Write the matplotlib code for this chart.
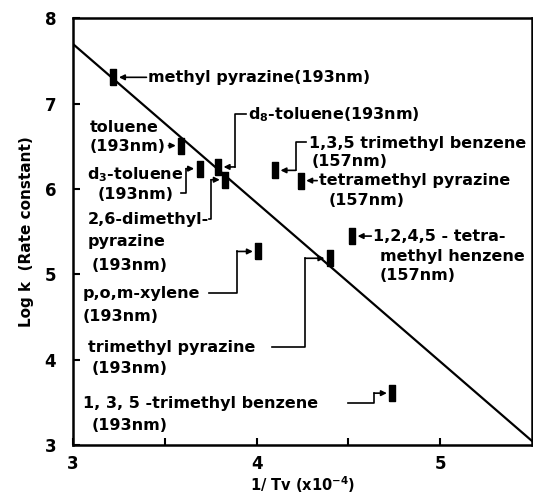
import numpy as np
import matplotlib
matplotlib.use('Agg')
import matplotlib.pyplot as plt

# data points: 1/Tv (x10^-4) and log k
names = ['methyl pyrazine', 'toluene', 'd3-toluene', 'd8-toluene',
         '2,6-dimethyl pyrazine', 'p,o,m-xylene', 'trimethyl pyrazine',
         '1,3,5-trimethyl benzene 193', '1,3,5-trimethyl benzene 157',
         'tetramethyl pyrazine', '1,2,4,5-tetramethyl benzene']
inv_tv = [3.22, 3.59, 3.69, 3.79, 3.83, 4.01, 4.40, 4.74, 4.10, 4.24, 4.52]
log_k = [7.31, 6.51, 6.24, 6.26, 6.11, 5.27, 5.19, 3.61, 6.22, 6.10, 5.45]

# fitted line end points
fit_x = [3.0, 5.5]
fit_y = [7.70, 3.05]

plt.rcParams['font.family'] = 'DejaVu Sans'
plt.rcParams['font.weight'] = 'bold'

fig = plt.figure(figsize=(5.33, 4.98), dpi=100)
ax = fig.add_axes([0.137, 0.106, 0.861, 0.857])

ax.plot(fit_x, fit_y, color='black', lw=1.6)

rect = [(-0.35, -1), (0.35, -1), (0.35, 1), (-0.35, 1), (-0.35, -1)]
ax.plot(inv_tv, log_k, linestyle='none', marker=rect, markersize=11,
        color='black')

fs = 11.5
txt = dict(fontsize=fs, fontweight='bold', va='center', ha='left')

# label lines (x, y, text)
lines = [
    (3.41, 7.31, 'methyl pyrazine(193nm)'),
    (3.093, 6.724, 'toluene'), (3.093, 6.50, '(193nm)'),
    (3.076, 6.17, 'd$_3$-toluene'), (3.136, 5.94, '(193nm)'),
    (3.953, 6.87, 'd$_8$-toluene(193nm)'),
    (3.082, 5.646, '2,6-dimethyl-'), (3.082, 5.39, 'pyrazine'),
    (3.103, 5.11, '(193nm)'),
    (3.054, 4.78, 'p,o,m-xylene'), (3.054, 4.51, '(193nm)'),
    (3.082, 4.148, 'trimethyl pyrazine'), (3.103, 3.90, '(193nm)'),
    (3.054, 3.49, '1, 3, 5 -trimethyl benzene'), (3.103, 3.234, '(193nm)'),
    (4.285, 6.536, '1,3,5 trimethyl benzene'), (4.30, 6.326, '(157nm)'),
    (4.34, 6.10, 'tetramethyl pyrazine'), (4.39, 5.87, '(157nm)'),
    (4.634, 5.447, '1,2,4,5 - tetra-'), (4.672, 5.213, 'methyl henzene'),
    (4.672, 4.99, '(157nm)'),
]
for x, y, s in lines:
    ax.text(x, y, s, **txt)

# leader lines: bends before the final arrow, one per data point
bends = [
    [(3.40, 7.31)],
    [(3.52, 6.51)],
    [(3.59, 5.96), (3.615, 5.96), (3.615, 6.24)],
    [(3.94, 6.88), (3.882, 6.88), (3.882, 6.26)],
    [(3.74, 5.646), (3.752, 5.646), (3.752, 6.11)],
    [(3.74, 4.78), (3.893, 4.78), (3.893, 5.27)],
    [(4.084, 4.148), (4.264, 4.148), (4.264, 5.19)],
    [(4.50, 3.49), (4.64, 3.49), (4.64, 3.61)],
    [(4.27, 6.55), (4.213, 6.55), (4.213, 6.22)],
    [(4.33, 6.10)],
    [(4.625, 5.45)],
]
for pts, x, y in zip(bends, inv_tv, log_k):
    if len(pts) > 1:
        px, py = zip(*pts)
        ax.plot(px, py, color='black', lw=1.2)
    ax.annotate('', xy=(x, y), xytext=pts[-1],
                arrowprops=dict(arrowstyle='-|>', color='black', lw=1.2,
                                mutation_scale=8, shrinkA=0, shrinkB=4))

ax.set_xlim(3, 5.5)
ax.set_ylim(3, 8)
ax.set_xticks([3, 4, 5])
ax.set_xticks([3.5, 4.5], minor=True)
ax.set_yticks([3, 4, 5, 6, 7, 8])
ax.tick_params(which='both', direction='in', length=5, width=1.5,
               labelsize=12, top=False, right=False)
ax.tick_params(axis='y', pad=12)
ax.tick_params(axis='x', pad=7)
for t in ax.get_xticklabels() + ax.get_yticklabels():
    t.set_fontweight('bold')
for sp in ax.spines.values():
    sp.set_linewidth(1.8)

ax.set_xlabel('1/ Tv (x10$^{-4}$)', fontsize=10.5, fontweight='bold',
              labelpad=1)
ax.set_ylabel('Log k  (Rate constant)', fontsize=11, fontweight='bold',
              labelpad=8)

fig.savefig('out.png', dpi=100)
